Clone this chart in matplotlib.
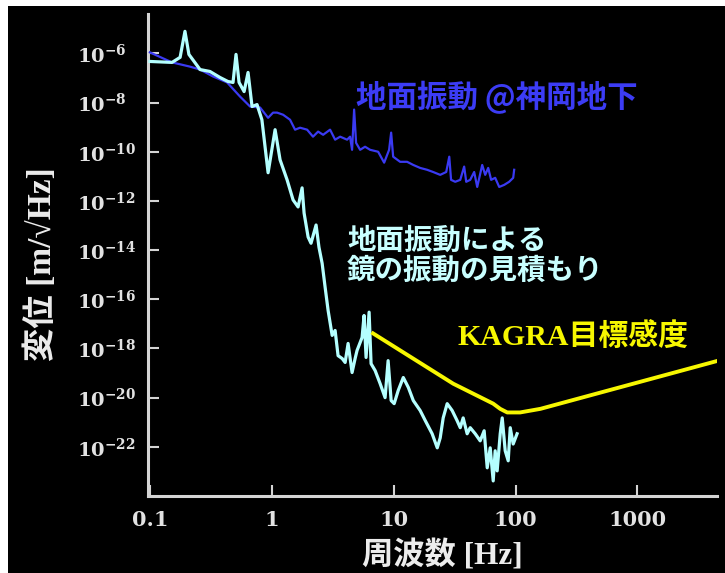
import matplotlib
matplotlib.use("Agg")
import matplotlib.pyplot as plt
from matplotlib.patches import Rectangle

# ---- data -------------------------------------------------------------
# Estimated mirror displacement caused by ground motion (light cyan)
mirror_freq = [0.1, 0.152, 0.177, 0.194, 0.209, 0.258, 0.311, 0.376, 0.437, 0.481,
               0.509, 0.539, 0.593, 0.639, 0.689, 0.757, 0.830, 0.933, 1.065, 1.17,
               1.336, 1.496, 1.644, 1.774, 1.842, 1.987, 2.10, 2.31, 2.44, 2.59,
               2.74, 2.90, 3.13, 3.31, 3.50, 3.78, 4.0, 4.23, 4.56, 4.83,
               5.01, 5.51, 5.72, 5.94, 6.29, 6.53, 7.05, 7.75, 8.51, 9.01,
               9.54, 10.1, 10.9, 12.0, 13.2, 14.5, 16.5, 18.2, 20.7, 22.8,
               24.1, 25.5, 27.5, 30.2, 33.2, 35.2, 37.2, 40.1, 42.5, 46.7,
               51.3, 55.3, 58.6, 62.0, 65.6, 68.1, 70.7, 74.9, 77.8, 82.3,
               87.1, 90.5, 95.7, 103]
mirror_disp = [4.7e-7, 4.3e-7, 6.9e-7, 7.9e-6, 9.1e-7, 2.2e-7, 1.84e-7, 1.05e-7, 7.2e-8, 6.6e-8,
               9.1e-7, 6.6e-8, 2.8e-8, 1.68e-7, 6.9e-9, 8.3e-9, 2.0e-9, 1.4e-11, 7.9e-10, 4.7e-11,
               7.2e-12, 1.1e-12, 5.7e-13, 3.4e-12, 3.2e-13, 3.4e-14, 1.9e-14, 1.05e-13, 1.3e-14, 2.9e-15,
               3.1e-16, 3.5e-17, 3.4e-18, 5.4e-18, 5.1e-19, 3.9e-19, 2.7e-19, 1.6e-18, 1.05e-19, 3.9e-19,
               8.3e-19, 2.8e-18, 2.2e-17, 4.3e-19, 3.0e-17, 2.4e-19, 1.26e-19, 3.7e-20, 1.0e-20, 3.2e-19,
               7.6e-21, 5.7e-21, 1.95e-20, 6.6e-20, 2.6e-20, 7.6e-21, 3.0e-21, 1.15e-21, 3.4e-22, 9.1e-23,
               2.3e-22, 1.5e-21, 5.7e-21, 3.0e-21, 1.15e-21, 6.0e-22, 1.5e-21, 3.4e-22, 6.0e-22, 3.4e-22,
               1.75e-22, 4.5e-22, 1.4e-23, 9.1e-23, 4.1e-24, 6.9e-23, 1.05e-23, 3.4e-22, 1.5e-21, 6.9e-23,
               2.7e-23, 6.0e-22, 1.3e-22, 3.4e-22]

# Ground motion measured underground at Kamioka (blue)
ground_freq = [0.1, 0.152, 0.213, 0.258, 0.330, 0.430, 0.549, 0.664, 0.802, 0.933,
               1.025, 1.106, 1.239, 1.413, 1.553, 1.707, 1.95, 2.18, 2.40, 2.64,
               3.01, 3.31, 3.64, 4.15, 4.39, 4.56, 4.74, 4.92, 5.31, 5.83,
               6.41, 7.46, 8.36, 9.18, 9.54, 9.91, 11.3, 12.9, 14.5, 16.5,
               18.8, 21.1, 24.1, 27.0, 28.6, 29.6, 32.0, 35.2, 37.9, 39.4,
               42.5, 45.8, 48.5, 53.3, 56.4, 59.7, 63.1, 68.1, 73.5, 80.8,
               88.7, 95.7, 97.5]
ground_disp = [1.1e-6, 4.3e-7, 2.9e-7, 2.2e-7, 1.15e-7, 6.6e-8, 1.76e-8, 6.9e-9, 6.3e-9, 2.4e-9,
               3.9e-9, 3.9e-9, 3.2e-9, 2.0e-9, 7.9e-10, 9.5e-10, 7.9e-10, 4.1e-10, 6.6e-10, 4.9e-10,
               7.9e-10, 3.1e-10, 4.1e-10, 3.1e-10, 4.1e-10, 1.2e-10, 5.2e-9, 2.3e-10, 1.2e-10, 1.6e-10,
               1.2e-10, 1.0e-10, 3.6e-11, 1.2e-10, 6.0e-10, 6.3e-11, 3.9e-11, 3.9e-11, 2.9e-11, 2.2e-11,
               1.85e-11, 1.5e-11, 1.15e-11, 1.5e-11, 6.3e-11, 7.2e-12, 6.0e-12, 7.2e-12, 2.5e-11, 6.0e-12,
               7.2e-12, 1.5e-11, 3.7e-12, 2.9e-11, 1.15e-11, 2.2e-11, 7.2e-12, 8.7e-12, 3.7e-12, 4.5e-12,
               6.0e-12, 8.7e-12, 1.85e-11]

# KAGRA design sensitivity (yellow)
kagra_freq = [6.78, 30.8, 65.6, 74.9, 85.5, 109, 160, 4620]
kagra_disp = [4.1e-18, 3.7e-20, 5.7e-21, 3.5e-21, 2.5e-21, 2.5e-21, 3.5e-21, 3.2e-19]

ytick_exponents = [-6, -8, -10, -12, -14, -16, -18, -20, -22]
xtick_values = [0.1, 1, 10, 100, 1000]
xtick_labels = ["0.1", "1", "10", "100", "1000"]

# ---- style ------------------------------------------------------------
plt.rcParams["mathtext.fontset"] = "custom"
plt.rcParams["mathtext.rm"] = "DejaVu Serif:bold"
plt.rcParams["mathtext.it"] = "DejaVu Serif:bold"
plt.rcParams["mathtext.bf"] = "DejaVu Serif:bold"
plt.rcParams["mathtext.default"] = "rm"

W, H = 725, 573
fig = plt.figure(figsize=(W / 100, H / 100), dpi=100)
fig.patch.set_facecolor("white")
fig.patches.append(Rectangle((8 / W, 0), 1 - 8 / W, 1 - 6 / H,
                             transform=fig.transFigure, facecolor="black",
                             edgecolor="none", zorder=-10))

def px(x, y):
    return x / W, 1 - y / H

left, top, right, bottom = 148, 14, 717, 496
ax = fig.add_axes([left / W, 1 - bottom / H, (right - left) / W, (bottom - top) / H])
ax.set_zorder(5)
ax.set_facecolor("none")
ax.set_xscale("log")
ax.set_yscale("log")

ax.plot(ground_freq, ground_disp, color="#3a3af2", lw=1.6, zorder=3)
ax.plot(mirror_freq, mirror_disp, color="#b4ffff", lw=2.3, zorder=4)
ax.plot(kagra_freq, kagra_disp, color="#f7f700", lw=2.8, zorder=5,
        solid_joinstyle="round")

ax.set_xlim(0.0965, 4500)
ax.set_ylim(1e-24, 4e-5)

axis_col = "#d4d4d4"
for s in ("top", "right"):
    ax.spines[s].set_visible(False)
for s in ("left", "bottom"):
    ax.spines[s].set_color(axis_col)
    ax.spines[s].set_linewidth(2.2)

ax.set_yticks([10.0 ** e for e in ytick_exponents],
              [r"$10^{%d}$" % e for e in ytick_exponents])
ax.set_xticks(xtick_values, xtick_labels)
ax.minorticks_off()
ax.tick_params(axis="both", direction="in", length=8, width=1.5, color=axis_col,
               labelcolor="#e2e2e2", labelsize=14)
ax.tick_params(axis="y", pad=51)
ax.tick_params(axis="x", pad=10, labelsize=15)
for lab in ax.get_yticklabels():
    lab.set_horizontalalignment("left")
for lab in ax.get_xticklabels():
    lab.set_fontfamily("DejaVu Serif")
    lab.set_fontweight("bold")

mixed = ["Liberation Serif", "Noto Sans CJK JP", "DejaVu Sans"]
cjk = ["Noto Sans CJK JP", "DejaVu Sans"]

fig.text(*px(442, 556), "周波数 [Hz]", family=mixed, weight="bold",
         fontsize=22.5, color="#ececec", ha="center", va="center")
fig.text(*px(42, 264), "変位 [m/√Hz]", family=mixed, weight="bold",
         fontsize=24, color="#ececec", ha="center", va="center", rotation=90)

fig.text(*px(356, 98), "地面振動 @神岡地下", family=cjk, weight="bold",
         fontsize=22, color="#3c3cf5", ha="left", va="center")
fig.text(*px(347, 241), "地面振動による", family=cjk, weight="bold",
         fontsize=20.5, color="#c8ffff", ha="left", va="center")
fig.text(*px(347, 271), "鏡の振動の見積もり", family=cjk, weight="bold",
         fontsize=20.5, color="#c8ffff", ha="left", va="center")
fig.text(*px(457, 337), "KAGRA目標感度", family=mixed, weight="bold",
         fontsize=21.5, color="#f7f700", ha="left", va="center")

fig.savefig("out.png", dpi=100, facecolor=fig.get_facecolor())
